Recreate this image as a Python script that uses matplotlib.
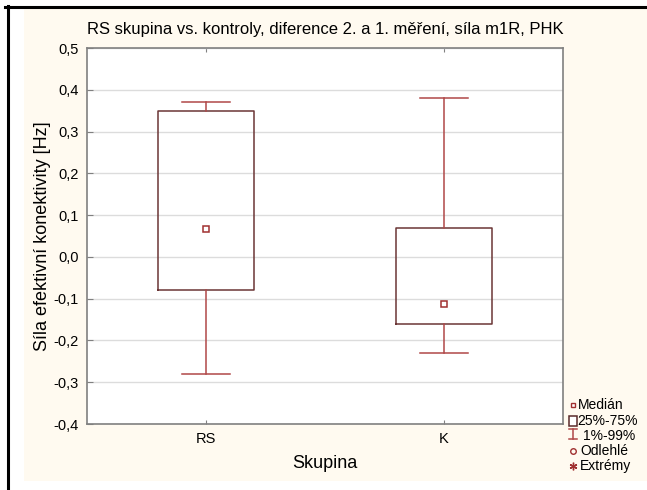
import matplotlib
matplotlib.use("Agg")
import matplotlib.pyplot as plt
from matplotlib.patches import Rectangle
from matplotlib.lines import Line2D

plt.rcParams['font.family'] = ['Liberation Sans', 'DejaVu Sans']

categories = ["RS", "K"]
medians = [0.067, -0.112]
q1 = [-0.08, -0.16]
q3 = [0.35, 0.07]
whislo = [-0.28, -0.23]
whishi = [0.37, 0.38]
yticks = [-0.4, -0.3, -0.2, -0.1, 0.0, 0.1, 0.2, 0.3, 0.4, 0.5]

W, H = 647, 490
fig = plt.figure(figsize=(W / 100, H / 100), dpi=100, facecolor='white')

def fx(x):
    return x / W

def fy(y):
    return 1 - y / H

# cream panel and black frame lines
fig.add_artist(Rectangle((fx(24), fy(481)), fx(647 - 24), (481 - 9) / H,
                         transform=fig.transFigure, facecolor='#fffaf0',
                         edgecolor='none', zorder=0))
fig.add_artist(Line2D([fx(5), fx(647)], [fy(7), fy(7)], transform=fig.transFigure,
                      color='black', lw=2.2))
fig.add_artist(Line2D([fx(8), fx(8)], [fy(6), fy(490)], transform=fig.transFigure,
                      color='black', lw=2.2))

ax = fig.add_axes([fx(87), fy(424), fx(563 - 87), (424 - 48) / H])
ax.set_facecolor('white')

stats = []
for i, c in enumerate(categories):
    stats.append(dict(label=c, med=medians[i], q1=q1[i], q3=q3[i],
                      whislo=whislo[i], whishi=whishi[i], fliers=[]))

box_col = '#6b3535'
wh_col = '#b04848'
ax.bxp(stats, positions=[1, 2], widths=0.40, showfliers=False,
       boxprops=dict(color=box_col, lw=1.1),
       whiskerprops=dict(color=wh_col, lw=1.1),
       capprops=dict(color=wh_col, lw=1.1),
       medianprops=dict(linestyle='none'),
       capwidths=0.2, zorder=3)
ax.plot([1, 2], medians, linestyle='none', marker='s', markersize=5,
        markerfacecolor='white', markeredgecolor='#a03030', markeredgewidth=1.1,
        zorder=4)

ax.set_xlim(0.5, 2.5)
ax.set_ylim(-0.4, 0.5)
ax.set_yticks(yticks)
ax.set_yticklabels([f"{v:.1f}".replace('.', ',') for v in yticks])
ax.set_xticks([1, 2])
ax.set_xticklabels(categories)
ax.grid(axis='y', color='#dcdcdc', lw=1)
ax.set_axisbelow(True)
for s in ax.spines.values():
    s.set_color('#808080')
    s.set_linewidth(1.2)
ax.tick_params(direction='in', length=3, color='#808080', labelsize=10.5, pad=6,
               top=True, right=False)
ax.tick_params(axis='y', length=4)

ax.set_title("RS skupina vs. kontroly, diference 2. a 1. měření, síla m1R, PHK",
             fontsize=12, pad=10)
ax.set_ylabel("Síla efektivní konektivity [Hz]", fontsize=13, labelpad=2)
ax.set_xlabel("Skupina", fontsize=13, labelpad=6)

# custom legend
lx = fx(573)
items = [
    (405, 'Medián', fx(578)),
    (421, '25%-75%', fx(577)),
    (436, '1%-99%', fx(583)),
    (451, 'Odlehlé', fx(580)),
    (466, 'Extrémy', fx(580)),
]
fig.add_artist(Line2D([lx], [fy(405)], transform=fig.transFigure, marker='s',
                      markersize=3.5, markerfacecolor='white', markeredgecolor='#a03030',
                      markeredgewidth=1.0, linestyle='none'))
fig.add_artist(Rectangle((fx(569), fy(426)), fx(7.5), 10 / H, transform=fig.transFigure,
                         facecolor='white', edgecolor='#5a2a2a', lw=1.1))
# I-beam
fig.add_artist(Line2D([lx, lx], [fy(429), fy(439)], transform=fig.transFigure,
                      color=wh_col, lw=1.1))
fig.add_artist(Line2D([fx(569), fx(577)], [fy(429), fy(429)], transform=fig.transFigure,
                      color=wh_col, lw=1.1))
fig.add_artist(Line2D([fx(569), fx(577)], [fy(439), fy(439)], transform=fig.transFigure,
                      color=wh_col, lw=1.1))
fig.add_artist(Line2D([lx], [fy(451)], transform=fig.transFigure, marker='o',
                      markersize=4, markerfacecolor='none', markeredgecolor='#a03030',
                      markeredgewidth=1.0, linestyle='none'))
fig.add_artist(Line2D([lx], [fy(466)], transform=fig.transFigure, marker=(6, 2, 0),
                      markersize=5.5, markeredgecolor='#a03030',
                      markeredgewidth=1.0, linestyle='none'))
for y, t, x in items:
    fig.text(x, fy(y), t, fontsize=10, va='center', ha='left')

fig.savefig('out.png', dpi=100, facecolor='white')
